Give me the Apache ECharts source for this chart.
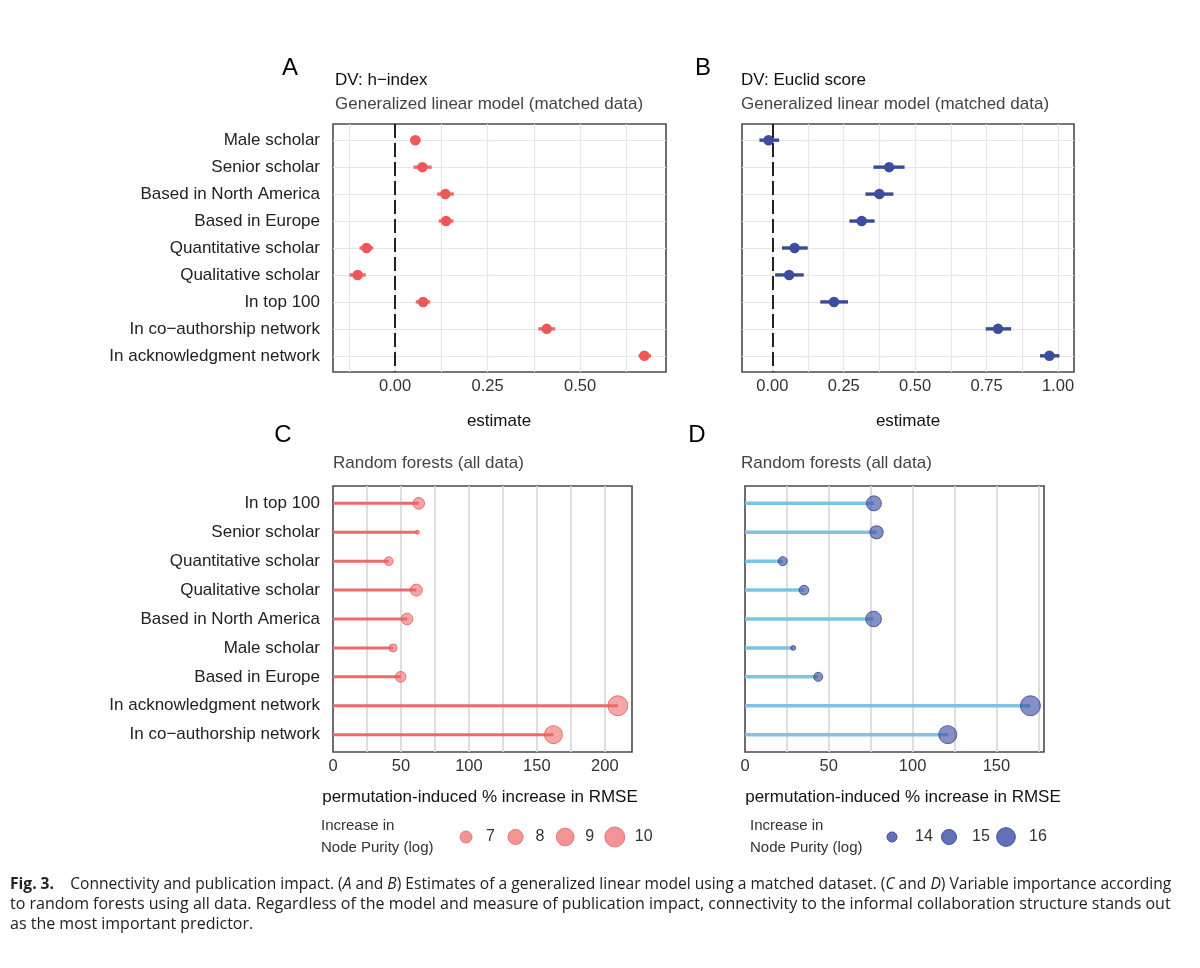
<!doctype html>
<html>
<head>
<meta charset="utf-8">
<script src="https://cdn.jsdelivr.net/npm/echarts@6/dist/echarts.min.js"></script>
<style>
  html, body { margin: 0; background: #fff; }
  #main { width: 1200px; height: 968px; }
</style>
</head>
<body>
<div id="main"></div>
<script>
// panels A and B: GLM estimates with intervals
var glmLabels = ['Male scholar', 'Senior scholar', 'Based in North America', 'Based in Europe',
  'Quantitative scholar', 'Qualitative scholar', 'In top 100', 'In co\u2212authorship network',
  'In acknowledgment network'];
var hEst  = [0.055, 0.074, 0.136, 0.138, -0.077, -0.101, 0.076, 0.410, 0.674];
var hLow  = [0.041, 0.050, 0.114, 0.118, -0.096, -0.123, 0.056, 0.387, 0.658];
var hHigh = [0.069, 0.099, 0.159, 0.158, -0.059, -0.079, 0.095, 0.433, 0.692];
var eEst  = [-0.013, 0.409, 0.375, 0.313, 0.078, 0.059, 0.216, 0.790, 0.970];
var eLow  = [-0.045, 0.354, 0.326, 0.270, 0.034, 0.010, 0.168, 0.747, 0.937];
var eHigh = [0.024, 0.463, 0.424, 0.358, 0.124, 0.110, 0.265, 0.836, 1.005];
var glmTicks = [0, 0.25, 0.5, 0.75, 1];

// panels C and D: random forest variable importance
var rfLabels = ['In top 100', 'Senior scholar', 'Quantitative scholar', 'Qualitative scholar',
  'Based in North America', 'Male scholar', 'Based in Europe', 'In acknowledgment network',
  'In co\u2212authorship network'];
var hRmse   = [63.1, 62.1, 41.0, 61.3, 54.5, 44.2, 49.8, 209.6, 162.2];
var hPurity = [6.9, 5.5, 6.2, 7.0, 6.9, 6.06, 6.65, 10.0, 9.1];
var eRmse   = [76.9, 78.5, 22.5, 35.2, 76.7, 28.8, 43.7, 170.3, 121.0];
var ePurity = [15.0, 14.6, 13.85, 13.95, 15.16, 13.38, 13.85, 16.4, 15.8];
var hPurityBreaks = [7, 8, 9, 10];
var ePurityBreaks = [14, 15, 16];
var rmseTicks = [0, 50, 100, 150, 200];

var SANS = '"Liberation Sans", Arial, sans-serif';
var CAP = '"Open Sans", sans-serif';

// size scales (area proportional)
function hSize(v) { return Math.sqrt(Math.max(16, 85.3 * (v - 5.31))); }
function eSize(v) { return Math.sqrt(Math.max(16, 125 * (v - 13.2))); }

function range(a, b, step) {
  var out = [];
  for (var v = a; v <= b + 1e-9; v += step) out.push(Math.round(v * 1000) / 1000);
  return out;
}
var rows = glmLabels.map(function (d, i) { return i; });

function segment(color, width) {
  return function (params, api) {
    var a = api.coord([api.value(0), api.value(2)]);
    var b = api.coord([api.value(1), api.value(2)]);
    return {
      type: 'line',
      shape: { x1: a[0], y1: a[1], x2: b[0], y2: b[1] },
      style: { stroke: color, lineWidth: width }
    };
  };
}

function xAx(grid, min, max, labels, ticks, digits, gridColor, gridWidth) {
  return {
    type: 'value', gridIndex: grid, min: min, max: max,
    axisLine: { show: false },
    axisTick: { show: false, customValues: ticks },
    splitLine: { show: true, lineStyle: { color: gridColor, width: gridWidth } },
    axisLabel: {
      customValues: labels, margin: 6, fontSize: 16.5, color: '#333', fontFamily: SANS,
      formatter: function (v) { return v.toFixed(digits); }
    }
  };
}

function yAx(grid, labels, showLabels, showGrid) {
  return {
    type: 'value', gridIndex: grid, inverse: true, min: -0.6, max: 8.6,
    axisLine: { show: false },
    axisTick: { show: false, customValues: rows },
    splitLine: { show: showGrid, lineStyle: { color: '#e6e6e6', width: 1.2 } },
    axisLabel: {
      show: showLabels, customValues: rows, margin: 13, fontSize: 17, color: '#222',
      fontFamily: SANS,
      formatter: function (v) { return labels[Math.round(v)]; }
    }
  };
}

var boxStyle = { show: true, borderColor: '#4a4a4a', borderWidth: 1.6, backgroundColor: '#fff' };

function txt(x, y, s, size, opts) {
  opts = opts || {};
  return {
    type: 'text', x: x, y: y, silent: true,
    style: {
      text: s, fontSize: size, fontFamily: opts.font || SANS, fill: opts.color || '#222',
      align: opts.align || 'left', verticalAlign: 'middle', fontWeight: opts.weight || 'normal'
    }
  };
}

var graphics = [
  txt(290, 68, 'A', 24, { align: 'center', color: '#000' }),
  txt(335, 80, 'DV: h\u2212index', 17, { color: '#111' }),
  txt(335, 104, 'Generalized linear model (matched data)', 17, { color: '#444' }),
  txt(703, 68, 'B', 24, { align: 'center', color: '#000' }),
  txt(741, 80, 'DV: Euclid score', 17, { color: '#111' }),
  txt(741, 104, 'Generalized linear model (matched data)', 17, { color: '#444' }),
  txt(499, 421, 'estimate', 17, { align: 'center', color: '#111' }),
  txt(908, 421, 'estimate', 17, { align: 'center', color: '#111' }),
  txt(283, 435, 'C', 24, { align: 'center', color: '#000' }),
  txt(333, 463, 'Random forests (all data)', 17, { color: '#444' }),
  txt(697, 435, 'D', 24, { align: 'center', color: '#000' }),
  txt(741, 463, 'Random forests (all data)', 17, { color: '#444' }),
  txt(480, 797, 'permutation-induced % increase in RMSE', 17, { align: 'center', color: '#111' }),
  txt(903, 797, 'permutation-induced % increase in RMSE', 17, { align: 'center', color: '#111' }),
  txt(321, 826, 'Increase in', 15, { color: '#333' }),
  txt(321, 848, 'Node Purity (log)', 15, { color: '#333' }),
  txt(750, 826, 'Increase in', 15, { color: '#333' }),
  txt(750, 848, 'Node Purity (log)', 15, { color: '#333' })
];

// size legends
hPurityBreaks.forEach(function (v, i) {
  var cx = 466 + i * 49.6;
  graphics.push({ type: 'circle', silent: true, shape: { cx: cx, cy: 837, r: hSize(v) / 2 },
    style: { fill: 'rgba(240,120,120,0.8)', stroke: '#e47a7a', lineWidth: 1 } });
  graphics.push(txt(cx + 20, 837, String(v), 16, { color: '#333' }));
});
ePurityBreaks.forEach(function (v, i) {
  var cx = 892 + i * 57;
  graphics.push({ type: 'circle', silent: true, shape: { cx: cx, cy: 837, r: eSize(v) / 2 },
    style: { fill: 'rgba(70,88,170,0.85)', stroke: '#3f4f9c', lineWidth: 1 } });
  graphics.push(txt(cx + 23, 837, String(v), 16, { color: '#333' }));
});

// caption
var capSizes = [15.6, 16, 16];
var capLines = [
  '{b|Fig. 3.}    Connectivity and publication impact. ({i|A} and {i|B}) Estimates of a generalized linear model using a matched dataset. ({i|C} and {i|D}) Variable importance according',
  'to random forests using all data. Regardless of the model and measure of publication impact, connectivity to the informal collaboration structure stands out',
  'as the most important predictor.'
];
capLines.forEach(function (s, i) {
  var fs = capSizes[i];
  graphics.push({
    type: 'text', x: 10, y: 885 + i * 19.5, silent: true,
    style: {
      text: s, fontSize: fs, fontFamily: CAP, fill: '#222', verticalAlign: 'middle',
      rich: {
        b: { fontWeight: 'bold', fontSize: fs, fontFamily: CAP, fill: '#222' },
        i: { fontStyle: 'italic', fontSize: fs, fontFamily: CAP, fill: '#222' }
      }
    }
  });
});

var myChart = echarts.init(document.getElementById('main'));

myChart.setOption({
  backgroundColor: '#fff',
  animation: false,
  grid: [
    Object.assign({ left: 333, top: 124, width: 333, height: 248 }, boxStyle),
    Object.assign({ left: 742, top: 124, width: 332, height: 248 }, boxStyle),
    Object.assign({ left: 333, top: 486, width: 299, height: 266 }, boxStyle),
    Object.assign({ left: 745, top: 486, width: 299, height: 266 }, boxStyle)
  ],
  xAxis: [
    xAx(0, -0.1676, 0.7324, glmTicks, range(-0.125, 0.625, 0.125), 2, '#e6e6e6', 1.2),
    xAx(1, -0.106, 1.056, glmTicks, range(0, 1, 0.125), 2, '#e6e6e6', 1.2),
    xAx(2, 0, 220, rmseTicks, range(25, 200, 25), 0, '#d6d6d6', 1.6),
    xAx(3, 0, 178.4, rmseTicks, range(25, 175, 25), 0, '#d6d6d6', 1.6)
  ],
  yAxis: [
    yAx(0, glmLabels, true, true),
    yAx(1, glmLabels, false, true),
    yAx(2, rfLabels, true, false),
    yAx(3, rfLabels, false, false)
  ],
  series: [
    {
      type: 'custom', xAxisIndex: 0, yAxisIndex: 0,
      renderItem: segment('#ec6b6b', 3.4),
      encode: { x: [0, 1], y: 2 },
      data: hEst.map(function (d, i) { return [hLow[i], hHigh[i], i]; })
    },
    {
      type: 'scatter', xAxisIndex: 0, yAxisIndex: 0, symbolSize: 10.5, z: 3,
      itemStyle: { color: '#ee5757', opacity: 1 },
      data: hEst.map(function (d, i) { return [d, i]; }),
      markLine: {
        silent: true, symbol: 'none', label: { show: false },
        lineStyle: { color: '#222', type: [14, 5], width: 2 },
        data: [{ xAxis: 0 }]
      }
    },
    {
      type: 'custom', xAxisIndex: 1, yAxisIndex: 1,
      renderItem: segment('#3b4a95', 3.4),
      encode: { x: [0, 1], y: 2 },
      data: eEst.map(function (d, i) { return [eLow[i], eHigh[i], i]; })
    },
    {
      type: 'scatter', xAxisIndex: 1, yAxisIndex: 1, symbolSize: 10.5, z: 3,
      itemStyle: { color: '#3c4c9e', opacity: 1 },
      data: eEst.map(function (d, i) { return [d, i]; }),
      markLine: {
        silent: true, symbol: 'none', label: { show: false },
        lineStyle: { color: '#222', type: [14, 5], width: 2 },
        data: [{ xAxis: 0 }]
      }
    },
    {
      type: 'custom', xAxisIndex: 2, yAxisIndex: 2,
      renderItem: segment('#ec6a6a', 3),
      encode: { x: [0, 1], y: 2 },
      data: hRmse.map(function (d, i) { return [0, d, i]; })
    },
    {
      type: 'scatter', xAxisIndex: 2, yAxisIndex: 2, z: 3,
      symbolSize: function (val) { return hSize(val[2]); },
      itemStyle: { color: 'rgba(240,100,100,0.72)', borderColor: '#e25a5a', borderWidth: 1 },
      data: hRmse.map(function (d, i) { return [d, i, hPurity[i]]; })
    },
    {
      type: 'custom', xAxisIndex: 3, yAxisIndex: 3,
      renderItem: segment('#7cc3e6', 3.5),
      encode: { x: [0, 1], y: 2 },
      data: eRmse.map(function (d, i) { return [0, d, i]; })
    },
    {
      type: 'scatter', xAxisIndex: 3, yAxisIndex: 3, z: 3,
      symbolSize: function (val) { return eSize(val[2]); },
      itemStyle: { color: 'rgba(60,78,160,0.78)', borderColor: '#34448f', borderWidth: 1 },
      data: eRmse.map(function (d, i) { return [d, i, ePurity[i]]; })
    }
  ],
  graphic: graphics
});
</script>
</body>
</html>
